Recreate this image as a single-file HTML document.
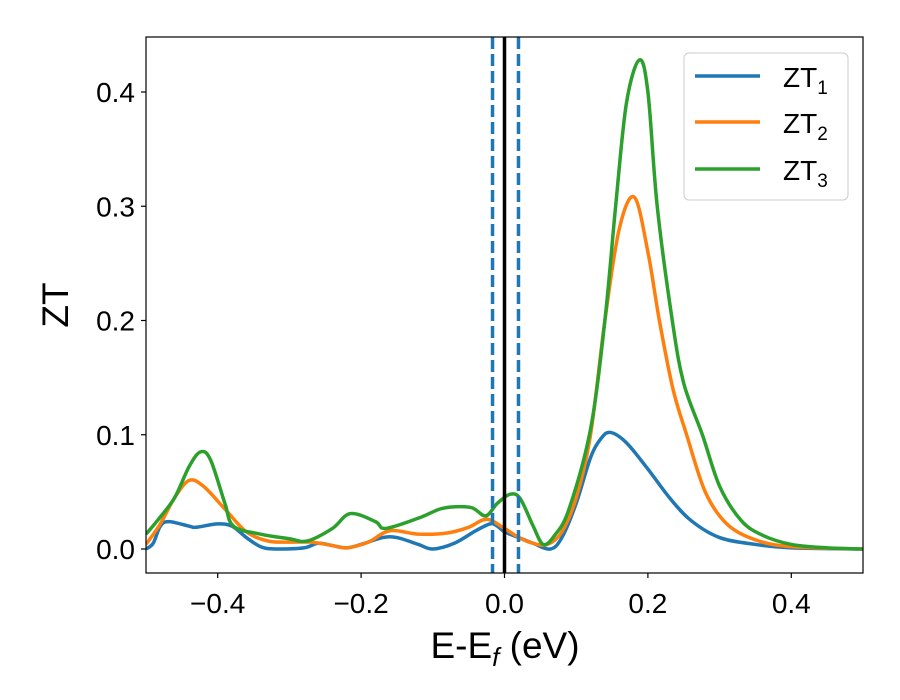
<!DOCTYPE html>
<html><head><meta charset="utf-8"><style>
body{margin:0;background:#fff}
svg{display:block;font-family:"Liberation Sans","DejaVu Sans",sans-serif}
</style></head><body>
<svg id="chart" width="900" height="700" viewBox="0 0 900 700" xmlns="http://www.w3.org/2000/svg">
<defs><clipPath id="clip"><rect x="146" y="37" width="717" height="536"/></clipPath></defs>
<g id="series" clip-path="url(#clip)"></g>
<rect x="146" y="37" width="717" height="536" fill="none" stroke="#000" stroke-width="1.2"/>
<g id="axes"></g>
<text x="505" y="658" font-size="37" text-anchor="middle">E-E<tspan font-style="italic" font-size="26" dy="8">f</tspan><tspan dy="-8"> (eV)</tspan></text>
<text transform="translate(68,305) rotate(-90)" font-size="37" text-anchor="middle">ZT</text>
<g>
<rect x="684" y="53" width="164" height="147" rx="5" fill="#fff" fill-opacity="0.8" stroke="#ccc" stroke-width="1"/>
<line x1="695" y1="76" x2="760" y2="76" stroke="#1f77b4" stroke-width="3.5"/>
<text x="783" y="87" font-size="28">ZT<tspan font-size="19" dy="7">1</tspan></text>
<line x1="695" y1="122" x2="760" y2="122" stroke="#ff7f0e" stroke-width="3.5"/>
<text x="783" y="133" font-size="28">ZT<tspan font-size="19" dy="7">2</tspan></text>
<line x1="695" y1="169" x2="760" y2="169" stroke="#2ca02c" stroke-width="3.5"/>
<text x="783" y="180" font-size="28">ZT<tspan font-size="19" dy="7">3</tspan></text>
</g>
</svg>
<script>
const xTicks=[-0.4,-0.2,0.0,0.2,0.4];
const xTickLabels=["\u22120.4","\u22120.2","0.0","0.2","0.4"];
const yTicks=[0.0,0.1,0.2,0.3,0.4];
const yTickLabels=["0.0","0.1","0.2","0.3","0.4"];
const zt1X=[-0.5,-0.49,-0.48,-0.468,-0.44,-0.43,-0.4,-0.38,-0.36,-0.34,-0.32,-0.28,-0.26,-0.24,-0.22,-0.2,-0.17,-0.15,-0.12,-0.1,-0.07,-0.04,-0.02,-0.01,0.0,0.02,0.04,0.064,0.08,0.1,0.12,0.135,0.148,0.17,0.2,0.23,0.26,0.3,0.35,0.4,0.5];
const zt1Y=[0.0,0.005,0.02,0.024,0.02,0.019,0.022,0.02,0.01,0.002,0.0,0.001,0.005,0.003,0.001,0.004,0.01,0.01,0.004,0.0,0.005,0.016,0.022,0.02,0.015,0.01,0.005,0.0,0.01,0.04,0.08,0.097,0.102,0.093,0.07,0.045,0.025,0.01,0.004,0.001,0.0];
const zt2X=[-0.5,-0.48,-0.46,-0.44,-0.42,-0.39,-0.36,-0.33,-0.3,-0.27,-0.24,-0.22,-0.19,-0.16,-0.12,-0.08,-0.05,-0.025,0.0,0.02,0.04,0.06,0.08,0.1,0.12,0.14,0.16,0.181,0.2,0.216,0.235,0.254,0.28,0.31,0.35,0.4,0.5];
const zt2Y=[0.004,0.022,0.045,0.06,0.055,0.035,0.015,0.007,0.006,0.006,0.003,0.001,0.006,0.016,0.013,0.014,0.019,0.026,0.018,0.01,0.005,0.004,0.015,0.045,0.1,0.2,0.28,0.308,0.26,0.2,0.14,0.1,0.05,0.022,0.008,0.002,0.0];
const zt3X=[-0.5,-0.484,-0.46,-0.44,-0.424,-0.41,-0.39,-0.378,-0.34,-0.3,-0.275,-0.24,-0.215,-0.18,-0.166,-0.12,-0.09,-0.068,-0.045,-0.026,-0.01,0.008,0.022,0.04,0.054,0.07,0.09,0.12,0.14,0.155,0.17,0.188,0.2,0.213,0.234,0.25,0.276,0.3,0.33,0.36,0.4,0.45,0.5];
const zt3Y=[0.013,0.025,0.045,0.072,0.085,0.078,0.04,0.02,0.013,0.009,0.007,0.018,0.031,0.024,0.018,0.027,0.035,0.037,0.036,0.029,0.04,0.048,0.044,0.02,0.004,0.012,0.035,0.105,0.2,0.3,0.39,0.428,0.4,0.3,0.2,0.145,0.1,0.055,0.025,0.012,0.004,0.001,0.0];
const vlines=[-0.0167,0.0195];

const NS="http://www.w3.org/2000/svg";
const X0=146,X1=863,Y0=37,Y1=573;
const xS=v=>X0+(v+0.5)/1.0*(X1-X0);
const yS=v=>549-v*1142.5;
const sg=document.getElementById('series'),ax=document.getElementById('axes');
function mk(t,a,p){const e=document.createElementNS(NS,t);for(const k in a)e.setAttribute(k,a[k]);p.appendChild(e);return e;}
function pathFor(xs,ys){
  const P=xs.map((x,i)=>[xS(x),yS(ys[i])]);
  let d=`M${P[0][0]},${P[0][1]}`;
  for(let i=0;i<P.length-1;i++){
    const p0=P[Math.max(0,i-1)],p1=P[i],p2=P[i+1],p3=P[Math.min(P.length-1,i+2)];
    const c1=[p1[0]+(p2[0]-p0[0])/6,p1[1]+(p2[1]-p0[1])/6];
    const c2=[p2[0]-(p3[0]-p1[0])/6,p2[1]-(p3[1]-p1[1])/6];
    d+=`C${c1[0]},${c1[1]} ${c2[0]},${c2[1]} ${p2[0]},${p2[1]}`;
  }
  return d;
}
[[zt1X,zt1Y,'#1f77b4','zt1'],[zt2X,zt2Y,'#ff7f0e','zt2'],[zt3X,zt3Y,'#2ca02c','zt3']].forEach(s=>{
  const p=mk('path',{d:pathFor(s[0],s[1]),fill:'none',stroke:s[2],'stroke-width':3.5,'stroke-linejoin':'round'},sg);
  
  
});
const fl=mk('line',{x1:xS(0),x2:xS(0),y1:Y0,y2:Y1,stroke:'#000','stroke-width':3.5},sg);


vlines.forEach((v,i)=>{
  const l=mk('line',{x1:xS(v),x2:xS(v),y1:Y0,y2:Y1,stroke:'#1f77b4','stroke-width':3.5,'stroke-dasharray':'12,5'},sg);
  
  
});
xTicks.forEach((v,i)=>{
  const x=xS(v);
  const t=mk('line',{x1:x,x2:x,y1:Y1,y2:Y1+5,stroke:'#000','stroke-width':1.2},ax);
  
  
  const tx=mk('text',{x:x,y:Y1+40,'font-size':28,'text-anchor':'middle'},ax);
  tx.textContent=xTickLabels[i];
  
  
});
yTicks.forEach((v,i)=>{
  const y=yS(v);
  const t=mk('line',{x1:X0-5,x2:X0,y1:y,y2:y,stroke:'#000','stroke-width':1.2},ax);
  
  
  const tx=mk('text',{x:X0-11,y:y+10,'font-size':28,'text-anchor':'end'},ax);
  tx.textContent=yTickLabels[i];
  
  
});
</script>
</body></html>
